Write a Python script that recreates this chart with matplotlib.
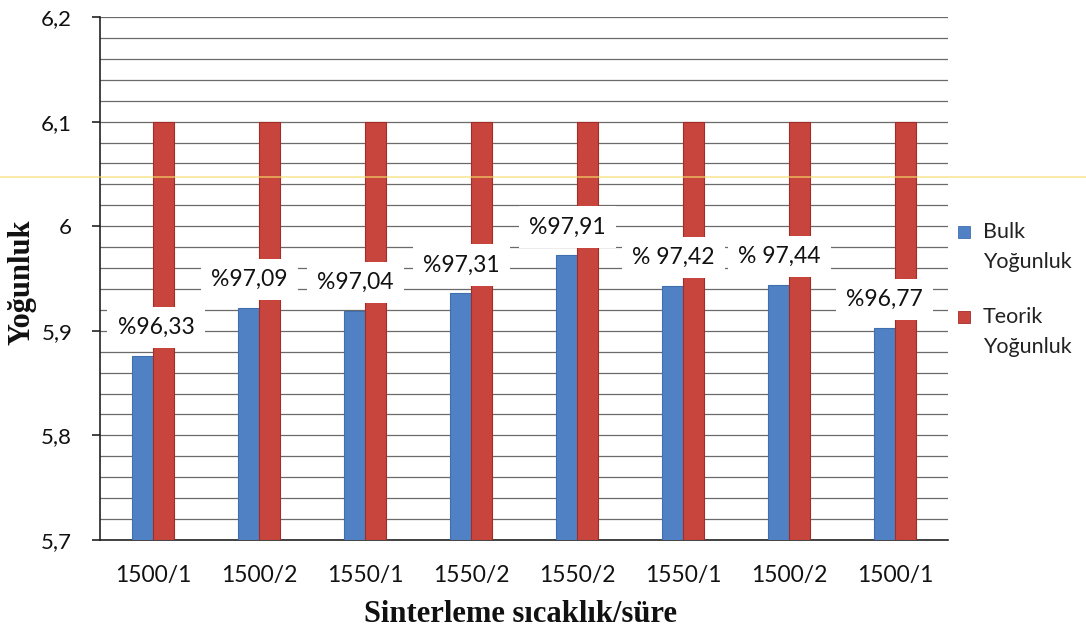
import matplotlib
matplotlib.use("Agg")
import matplotlib.pyplot as plt
import numpy as np
from matplotlib.patches import Rectangle
from matplotlib.lines import Line2D

# ---- data ----
categories = ["1500/1", "1500/2", "1550/1", "1550/2", "1550/2", "1550/1", "1500/2", "1500/1"]
bulk = [5.876, 5.922, 5.919, 5.936, 5.972, 5.943, 5.944, 5.903]
teorik = [6.1, 6.1, 6.1, 6.1, 6.1, 6.1, 6.1, 6.1]
pct_labels = ["%96,33", "%97,09", "%97,04", "%97,31", "%97,91", "% 97,42", "% 97,44", "%96,77"]
yticks = [5.7, 5.8, 5.9, 6.0, 6.1, 6.2]
ytick_labels = ["5,7", "5,8", "5,9", "6", "6,1", "6,2"]
legend_labels = ["Bulk\nYoğunluk", "Teorik\nYoğunluk"]

# ---- layout / style ----
W, H = 1086, 636
blue = "#4f81c4"
red = "#c8453e"
font = "Lato"
label_dx = [0.03, -0.09, -0.09, -0.09, -0.09, -0.09, -0.09, -0.1]

fig = plt.figure(figsize=(W / 100, H / 100), dpi=100)
ax = fig.add_axes([100 / W, 1 - 540 / H, 848 / W, 523 / H])

x = np.arange(len(categories))
bw = 0.2
ax.bar(x - bw / 2, [b - 5.7 for b in bulk], bw, bottom=5.7, color=blue,
       edgecolor="#3f6fae", linewidth=0.8, zorder=3)
ax.bar(x + bw / 2, [t - 5.7 for t in teorik], bw, bottom=5.7, color=red,
       edgecolor="#a52b27", linewidth=0.8, zorder=3)

for i, (b, lab) in enumerate(zip(bulk, pct_labels)):
    ax.text(i + label_dx[i], b + 0.027, lab, ha="center", va="center",
            fontsize=16.5, family=font, color="#111111", zorder=5,
            bbox=dict(boxstyle="square,pad=0.45", fc="white", ec="none"))

ax.set_xlim(-0.5, len(categories) - 0.5)
ax.set_ylim(5.7, 6.2)
ax.set_yticks(yticks)
ax.set_yticklabels(ytick_labels, family=font, fontsize=16, color="#111111")
ax.set_yticks(np.arange(5.7, 6.2001, 0.02), minor=True)
ax.set_xticks(x)
ax.set_xticklabels(categories, family=font, fontsize=16.5, color="#111111")
ax.tick_params(axis="x", length=0, pad=18)
ax.tick_params(axis="y", which="major", length=6, width=1.2, pad=14, color="#222222")
ax.tick_params(axis="y", which="minor", length=0)
ax.grid(axis="y", which="both", color="#6a6a6a", linewidth=0.9, zorder=0)
ax.set_axisbelow(True)
for s in ["top", "right"]:
    ax.spines[s].set_visible(False)
ax.spines["left"].set_color("#222222")
ax.spines["bottom"].set_color("#222222")
ax.spines["left"].set_linewidth(1.2)
ax.spines["bottom"].set_linewidth(1.2)

fig.text(520 / W, 1 - 615 / H, "Sinterleme sıcaklık/süre", ha="center", va="center",
         family="Liberation Serif", fontweight="bold", fontsize=22, color="#111111")
fig.text(22 / W, 1 - 282 / H, "Yoğunluk", ha="center", va="center", rotation=90,
         family="Liberation Serif", fontweight="bold", fontsize=22, color="#111111")

# legend (manual)
for (lab, col, ec, yc) in [(legend_labels[0], blue, "#3f6fae", 232), (legend_labels[1], red, "#a52b27", 317)]:
    fig.patches.append(Rectangle(((958) / W, 1 - (yc + 6) / H), 12 / W, 12 / H,
                                 transform=fig.transFigure, fc=col, ec=ec, lw=0.6))
    l1, l2 = lab.split("\n")
    fig.text(983 / W, 1 - yc / H, l1, ha="left", va="center", family=font,
             fontsize=15.5, color="#222222")
    fig.text(983 / W, 1 - (yc + 30) / H, l2, ha="left", va="center", family=font,
             fontsize=15.5, color="#222222")

# scan highlight line
fig.lines.append(Line2D([0, 1], [1 - 176.5 / H, 1 - 176.5 / H], transform=fig.transFigure,
                        color="#f5dc6a", linewidth=1.2, alpha=0.7))

fig.savefig("out.png", dpi=100)
